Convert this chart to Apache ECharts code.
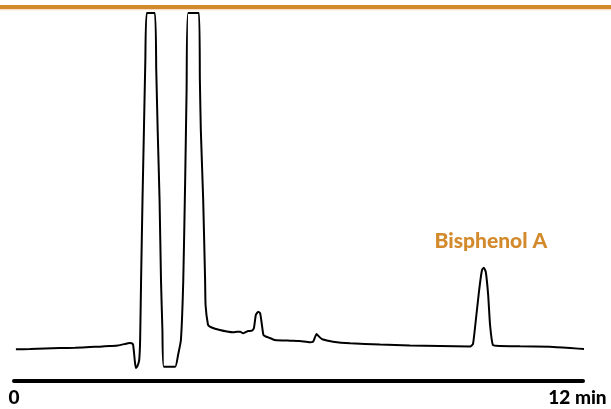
<!DOCTYPE html>
<html>
<head>
<meta charset="utf-8">
<script src="https://cdn.jsdelivr.net/npm/echarts@6/dist/echarts.min.js"></script>
<style>
  html, body { margin: 0; padding: 0; background: #ffffff; }
  #chart { width: 611px; height: 409px; }
</style>
</head>
<body>
<div id="chart"></div>
<script>
// Retention time (min)
var times = [
  0.04, 0.34, 0.65, 0.97, 1.29, 1.60, 1.81, 2.02, 2.19, 2.34, 2.43, 2.48, 2.51, 2.53, 2.55, 2.57,
  2.60, 2.64, 2.66, 2.68, 2.71, 2.74, 2.77, 2.80, 2.97, 3.00, 3.03, 3.07, 3.10, 3.13, 3.16, 3.40,
  3.46, 3.52, 3.57, 3.61, 3.64, 3.67, 3.90, 3.92, 3.94, 3.99, 4.03, 4.04, 4.09, 4.13, 4.24, 4.34,
  4.49, 4.62, 4.70, 4.77, 4.83, 4.89, 4.94, 5.02, 5.06, 5.10, 5.15, 5.19, 5.22, 5.26, 5.31, 5.36,
  5.50, 5.82, 6.03, 6.24, 6.31, 6.38, 6.43, 6.50, 6.73, 7.09, 7.72, 8.35, 8.98, 9.62, 9.68, 9.74,
  9.81, 9.87, 9.91, 9.95, 10.00, 10.04, 10.10, 10.25, 10.67, 11.30, 11.73, 12.08
];
// Detector signal (relative units, 0-100 = full scale)
var signal = [
  8.48, 8.56, 8.69, 8.82, 8.88, 9.09, 9.17, 9.36, 9.49, 9.89, 10.16, 10.08, 9.76, 7.75, 5.08, 3.48,
  3.88, 5.61, 10.96, 27.01, 48.40, 67.11, 85.83, 98.40, 98.40, 83.16, 67.11, 48.40, 27.01, 13.64, 3.82, 3.82,
  6.95, 10.96, 27.01, 53.74, 77.81, 98.40, 98.40, 80.48, 67.11, 48.40, 27.01, 20.32, 15.11, 14.52, 13.98, 13.64,
  13.24, 13.02, 13.16, 13.18, 12.75, 13.10, 13.37, 13.45, 14.17, 17.65, 18.53, 18.18, 15.78, 12.30, 11.90, 11.68,
  10.96, 10.78, 10.70, 10.35, 10.56, 12.57, 11.90, 11.15, 10.51, 10.08, 9.76, 9.49, 9.36, 9.22, 9.89, 16.31,
  24.33, 29.68, 30.29, 29.14, 22.99, 14.97, 9.63, 9.36, 9.28, 9.17, 8.82, 8.48
];
// Axis tick labels
var tickValues = [0, 12];
var tickLabels = ['0', '12 min'];
// Annotated peak
var peakNames = ['Bisphenol A'];
var peakTimes = [9.91];
var peakSignals = [30.29];

var orange = '#D38A2C';

var chart = echarts.init(document.getElementById('chart'), null, { renderer: 'canvas' });

var lineData = times.map(function (t, i) { return [t, signal[i]]; });
var peakMarks = peakNames.map(function (n, i) {
  return { name: n, coord: [peakTimes[i], peakSignals[i]] };
});

chart.setOption({
  animation: false,
  backgroundColor: '#ffffff',
  grid: { left: 14, right: 28, top: 7, bottom: 28, containLabel: false },
  xAxis: {
    type: 'value',
    min: 0,
    max: 12,
    splitLine: { show: false },
    axisTick: { show: false },
    axisLine: { show: true, onZero: false, lineStyle: { color: '#000000', width: 4 } },
    axisLabel: {
      show: true,
      customValues: tickValues,
      margin: 7,
      color: '#000000',
      fontFamily: 'Lato',
      fontWeight: 900,
      fontSize: 19,
      formatter: function (v) {
        var idx = tickValues.indexOf(v);
        var txt = idx >= 0 ? tickLabels[idx] : '';
        return idx === tickValues.length - 1 ? '{last|' + txt + '}' : txt;
      },
      rich: {
        last: { fontFamily: 'Lato', fontWeight: 900, fontSize: 19, color: '#000000', padding: [0, 11, 0, 0] }
      }
    }
  },
  yAxis: {
    type: 'value',
    min: 0,
    max: 100,
    show: false
  },
  graphic: [
    { type: 'line', shape: { x1: 0, y1: 9.5, x2: 611, y2: 9.5 }, style: { stroke: '#F6DEC2', lineWidth: 1.5 } },
    { type: 'line', shape: { x1: 0, y1: 7, x2: 611, y2: 7 }, style: { stroke: orange, lineWidth: 4 } }
  ],
  series: [{
    type: 'line',
    data: lineData,
    showSymbol: false,
    symbol: 'none',
    clip: false,
    smooth: 0.15,
    lineStyle: { color: '#000000', width: 2 },
    markPoint: {
      symbol: 'circle',
      symbolSize: 0,
      label: {
        show: true,
        position: 'inside',
        offset: [7, -26],
        formatter: function (p) { return p.name; },
        color: orange,
        fontFamily: 'Lato',
        fontWeight: 900,
        fontSize: 21
      },
      data: peakMarks
    }
  }]
});
</script>
</body>
</html>
